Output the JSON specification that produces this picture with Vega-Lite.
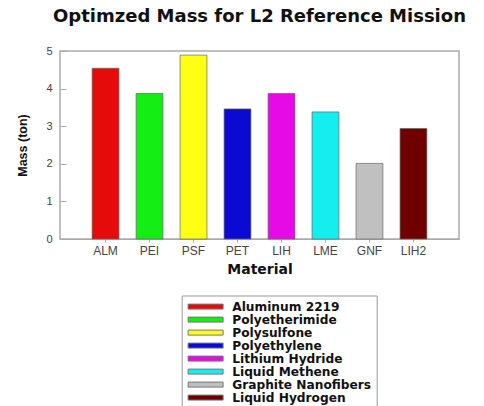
{
  "$schema": "https://vega.github.io/schema/vega-lite/v6.json",
  "autosize": "none",
  "width": 399,
  "height": 188,
  "padding": {"left": 60, "top": 51, "right": 25, "bottom": 167},
  "background": "white",
  "title": {
    "text": "Optimzed Mass for L2 Reference Mission",
    "font": "DejaVu Sans",
    "fontSize": 18,
    "fontWeight": "bold",
    "color": "#111",
    "anchor": "middle",
    "offset": 19
  },
  "config": {
    "view": {"stroke": "#aaa", "strokeWidth": 1.5},
    "axis": {"grid": false, "domainColor": "#aaa", "tickColor": "#aaa"}
  },
  "data": {
    "values": [
      {"code": "ALM", "material": "Aluminum 2219", "mass": 4.54},
      {"code": "PEI", "material": "Polyetherimide", "mass": 3.87},
      {"code": "PSF", "material": "Polysulfone", "mass": 4.89},
      {"code": "PET", "material": "Polyethylene", "mass": 3.46},
      {"code": "LIH", "material": "Lithium Hydride", "mass": 3.87},
      {"code": "LME", "material": "Liquid Methene", "mass": 3.38},
      {"code": "GNF", "material": "Graphite Nanofibers", "mass": 2.01},
      {"code": "LIH2", "material": "Liquid Hydrogen", "mass": 2.94}
    ]
  },
  "mark": {"type": "bar", "stroke": "#666", "strokeWidth": 1, "strokeOpacity": 0.7},
  "encoding": {
    "x": {
      "field": "code",
      "type": "nominal",
      "sort": null,
      "scale": {"paddingInner": 0.39, "paddingOuter": 0.73},
      "axis": {
        "title": "Material",
        "titleFont": "DejaVu Sans",
        "titleFontSize": 14,
        "titleFontWeight": "bold",
        "titleColor": "#111",
        "titlePadding": 6,
        "labelAngle": 0,
        "labelFont": "Liberation Sans",
        "labelFontSize": 12,
        "labelColor": "#444",
        "labelPadding": 3,
        "tickSize": 3,
        "domainColor": "#aaa"
      }
    },
    "y": {
      "field": "mass",
      "type": "quantitative",
      "scale": {"domain": [0, 5], "nice": false},
      "axis": {
        "title": "Mass (ton)",
        "titleFont": "Liberation Sans",
        "titleFontSize": 12.5,
        "titleFontWeight": "bold",
        "titleColor": "#111",
        "titlePadding": 16,
        "values": [0, 1, 2, 3, 4, 5],
        "labelFont": "Liberation Sans",
        "labelFontSize": 11,
        "labelColor": "#444",
        "tickSize": -6,
        "labelPadding": 14,
        "domain": false
      }
    },
    "color": {
      "field": "material",
      "type": "nominal",
      "sort": null,
      "scale": {
        "domain": ["Aluminum 2219", "Polyetherimide", "Polysulfone", "Polyethylene", "Lithium Hydride", "Liquid Methene", "Graphite Nanofibers", "Liquid Hydrogen"],
        "range": ["#e60a0a", "#14ee14", "#ffff14", "#0a0ad2", "#e60ae6", "#14eeee", "#c0c0c0", "#700000"]
      },
      "legend": {
        "title": null,
        "orient": "none",
        "legendX": 121.7,
        "legendY": 244.5,
        "direction": "vertical",
        "padding": 5,
        "strokeColor": "#999",
        "fillColor": "white",
        "symbolType": "M-3.5,-0.5H3.5V0.5H-3.5Z",
        "symbolSize": 100,
        "symbolOffset": 12.8,
        "symbolStrokeWidth": 1,
        "symbolStrokeColor": "#777",
        "symbolOpacity": 1,
        "labelOffset": 20.5,
        "labelFont": "DejaVu Sans",
        "labelFontSize": 12.2,
        "labelFontWeight": "bold",
        "labelColor": "#111",
        "rowPadding": 0,
        "clipHeight": 12.2
      }
    }
  }
}
